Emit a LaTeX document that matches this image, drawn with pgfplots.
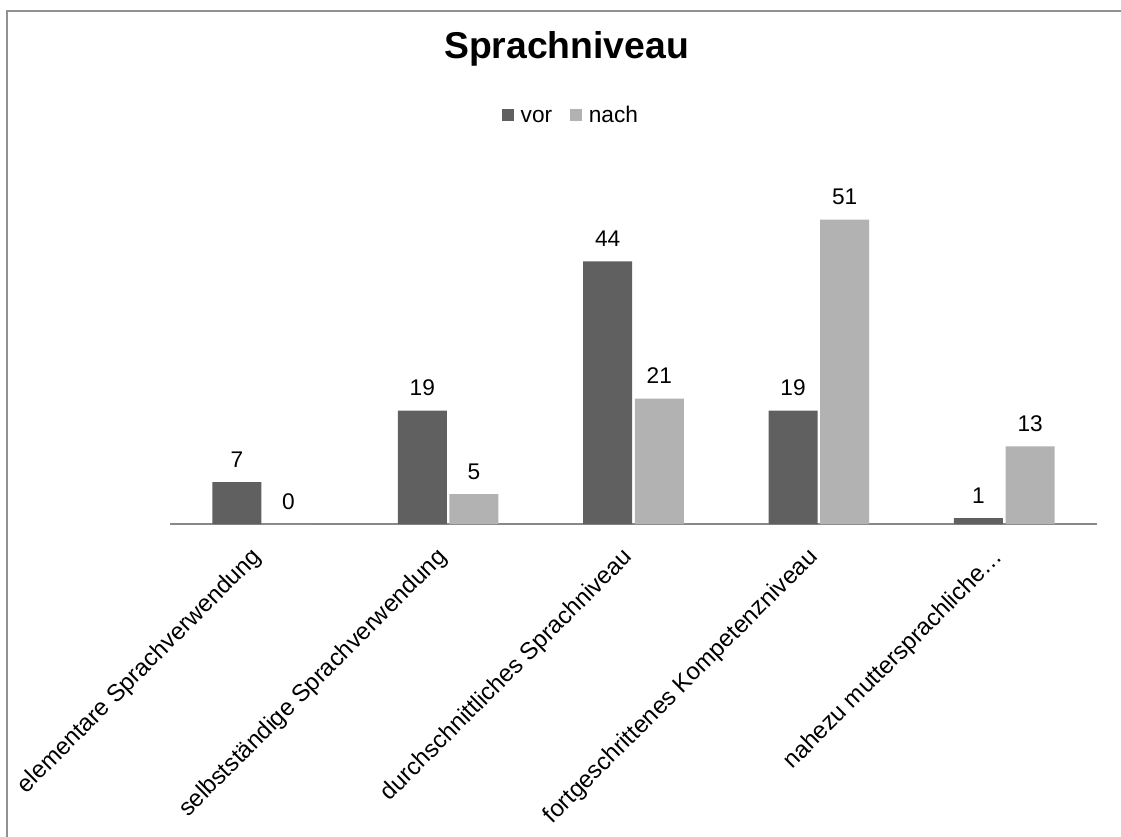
\documentclass[border=0pt]{standalone}
\usepackage{pgfplots}
\pgfplotsset{compat=1.18}
\usepackage{fontspec}
\setmainfont{Liberation Sans}
\definecolor{vorcol}{RGB}{96,96,96}
\definecolor{nachcol}{RGB}{178,178,178}
\definecolor{framecol}{RGB}{145,145,145}
\definecolor{axcol}{RGB}{136,136,136}
\newcommand{\txt}{\fontsize{17}{20}\selectfont}
\begin{document}
\begin{tikzpicture}
\path[use as bounding box] (0pt,0pt) rectangle (840.75pt,627pt);
\draw[framecol, line width=1.5pt] (5.25pt,-2pt) -- (5.25pt,619.1pt) -- (842pt,619.1pt);
\begin{axis}[
  at={(127.5pt,234pt)}, anchor=south west,
  scale only axis,
  width=695.25pt, height=268.65pt,
  ybar, bar width=36.75pt,
  ymin=0, ymax=60,
  xmin=-0.5, xmax=4.5,
  /pgf/number format/assume math mode=true,
  axis x line=bottom, axis y line=none,
  x axis line style={-, draw=axcol, line width=1.2pt},
  xtick=data,
  xticklabels={elementare Sprachverwendung, selbstständige Sprachverwendung, durchschnittliches Sprachniveau, fortgeschrittenes Kompetenzniveau, nahezu muttersprachliche…},
  xtick style={draw=none},
  xticklabel style={xshift=-9.5pt, yshift=-14pt, rotate=45, anchor=north east, font=\fontsize{18}{21}\selectfont, inner sep=0pt},
  ytick=\empty,
  nodes near coords,
  every node near coord/.append style={font=\txt, text=black, anchor=base, inner sep=0pt, yshift=11.25pt},
  title={Sprachniveau},
  title style={at={(axis description cs:0.4278,1.2785)}, anchor=base, font=\fontsize{28}{33}\selectfont\bfseries, inner sep=0pt},
  legend columns=2,
  legend image code/.code={\fill[#1] (0pt,-4.5pt) rectangle (9pt,4.5pt);},
  legend style={at={(axis description cs:0.4315,1.143)}, anchor=center, draw=none, fill=none, font=\txt, inner sep=0pt,
    nodes={inner sep=0pt, text height=11.2pt, text depth=0pt},
    /tikz/every odd column/.append style={column sep=5pt},
    /tikz/every even column/.append style={column sep=13.5pt}},
]
\addplot[fill=vorcol, draw=none] coordinates {(0,7) (1,19) (2,44) (3,19) (4,1)};
\addplot[fill=nachcol, draw=none] coordinates {(0,0) (1,5) (2,21) (3,51) (4,13)};
\legend{vor, nach}
\end{axis}
\end{tikzpicture}
\end{document}
